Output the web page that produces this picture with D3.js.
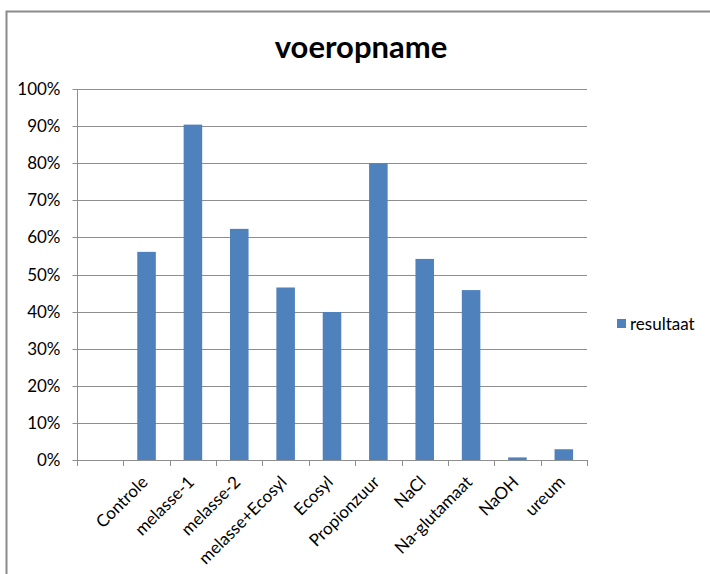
<!DOCTYPE html>
<html>
<head>
<meta charset="utf-8">
<script src="https://cdn.jsdelivr.net/npm/d3@7"></script>
<style>
  html, body { margin: 0; padding: 0; background: #fff; }
  svg { display: block; }
  text { font-family: Lato, "Open Sans", "Liberation Sans", sans-serif; fill: #000; }
</style>
</head>
<body>
<svg id="chart" width="710" height="574"></svg>
<script>
// Categories (first slot is intentionally left empty)
const categories = ["", "Controle", "melasse-1", "melasse-2", "melasse+Ecosyl", "Ecosyl",
                    "Propionzuur", "NaCl", "Na-glutamaat", "NaOH", "ureum"];
const resultaat = [null, 0.561, 0.904, 0.623, 0.465, 0.399, 0.800, 0.542, 0.458, 0.007, 0.029];
const yTicks = [0, 0.1, 0.2, 0.3, 0.4, 0.5, 0.6, 0.7, 0.8, 0.9, 1.0];
const seriesName = "resultaat";
const chartTitle = "voeropname";

const svg = d3.select("#chart");
const W = 710, H = 574;
const plot = { left: 77, right: 587, top: 89, bottom: 460 };
const barColor = "#4f81bd";
const gridColor = "#8e8e8e";

// outer chart frame
svg.append("rect")
  .attr("x", 6.5).attr("y", 11.5)
  .attr("width", W + 20).attr("height", H + 20)
  .attr("fill", "#fff")
  .attr("stroke", "#8a8a8a").attr("stroke-width", 2);

const x = d3.scaleBand().domain(d3.range(categories.length))
  .range([plot.left, plot.right]).paddingInner(0).paddingOuter(0);
const y = d3.scaleLinear().domain([0, 1]).range([plot.bottom, plot.top]);

// title
svg.append("text")
  .attr("x", 361).attr("y", 58)
  .attr("text-anchor", "middle")
  .style("font-size", "31px").style("font-weight", "bold")
  .text(chartTitle);

// horizontal gridlines
svg.append("g").selectAll("line").data(yTicks.filter(d => d > 0)).join("line")
  .attr("x1", plot.left).attr("x2", plot.right)
  .attr("y1", d => Math.round(y(d)) + 0.5).attr("y2", d => Math.round(y(d)) + 0.5)
  .attr("stroke", gridColor).attr("stroke-width", 1);

// y axis
const yAxis = d3.axisLeft(y).tickValues(yTicks).tickFormat(d3.format(".0%"))
  .tickSize(5).tickPadding(12).offset(0);
const gy = svg.append("g").attr("transform", `translate(${plot.left + 0.5},0)`).call(yAxis);
gy.selectAll("path.domain").attr("stroke", gridColor).attr("d", `M0,${plot.top}V${plot.bottom}`);
gy.selectAll(".tick line").attr("stroke", gridColor);
gy.selectAll(".tick").attr("transform", d => `translate(0,${Math.round(y(d)) + 0.5})`);
gy.selectAll(".tick text").style("font-size", "17px").attr("fill", "#000")
  .style("font-family", "Lato, 'Open Sans', sans-serif");

// bars
svg.append("g").selectAll("rect")
  .data(resultaat.map((v, i) => ({ v, i })).filter(d => d.v !== null))
  .join("rect")
  .attr("x", d => x(d.i) + x.bandwidth() * 0.3)
  .attr("width", x.bandwidth() * 0.4)
  .attr("y", d => y(d.v))
  .attr("height", d => y(0) - y(d.v))
  .attr("fill", barColor);

// x axis baseline and ticks at category boundaries
const gx = svg.append("g");
gx.append("line")
  .attr("x1", plot.left).attr("x2", plot.right)
  .attr("y1", plot.bottom + 0.5).attr("y2", plot.bottom + 0.5)
  .attr("stroke", gridColor);
const bounds = d3.range(categories.length + 1).map(i => plot.left + i * x.bandwidth());
gx.selectAll("line.tk").data(bounds).join("line").attr("class", "tk")
  .attr("x1", d => Math.round(d) + 0.5).attr("x2", d => Math.round(d) + 0.5)
  .attr("y1", plot.bottom).attr("y2", plot.bottom + 6)
  .attr("stroke", gridColor);

// rotated category labels
gx.selectAll("text").data(categories.map((c, i) => ({ c, i })).filter(d => d.c !== ""))
  .join("text")
  .attr("transform", d => `translate(${x(d.i) + x.bandwidth() / 2 - 2},${plot.bottom + 19}) rotate(-45)`)
  .attr("text-anchor", "end")
  .attr("dy", "0.35em")
  .style("font-size", "17px")
  .text(d => d.c);

// legend
const lg = svg.append("g").attr("transform", "translate(617,319)");
lg.append("rect").attr("width", 9).attr("height", 9).attr("fill", barColor);
lg.append("text").attr("x", 13).attr("y", 11).style("font-size", "17px").text(seriesName);
</script>
</body>
</html>
